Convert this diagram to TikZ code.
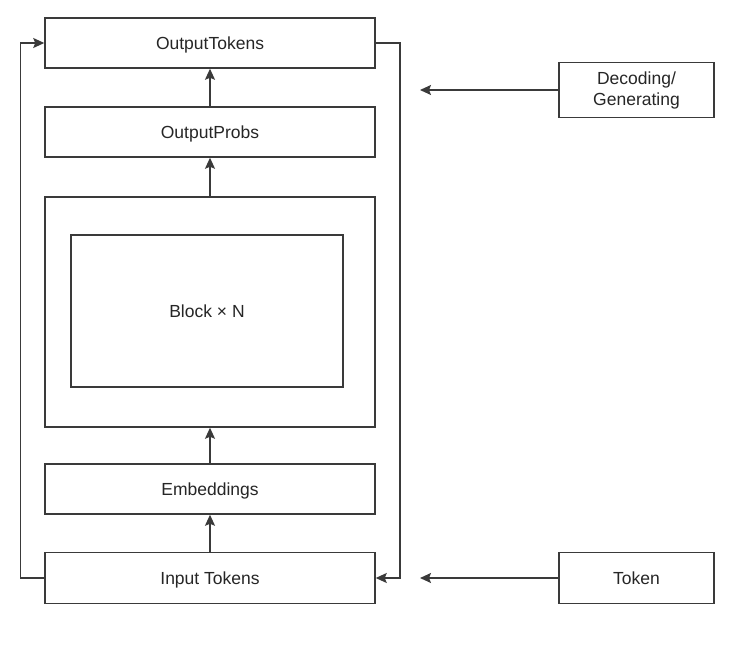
\documentclass[tikz,border=0pt]{standalone}
\usepackage{fontspec}
\setmainfont{Liberation Sans}
\usetikzlibrary{arrows.meta}
\definecolor{ln}{HTML}{3A3A3A}
\begin{document}
\begin{tikzpicture}[x=1pt,y=-1pt,
  box/.style={draw=ln,line width=1.5pt,rectangle,inner sep=0pt,font=\fontsize{17.5}{21}\selectfont,text=black!85,text height=13pt,text depth=0.5pt},
  conn/.style={draw=ln,line width=1.5pt,-{Stealth[length=11pt,width=10pt,inset=2pt]}}]
\useasboundingbox[fill=white] (0,0) rectangle (733,650);
\node[box,minimum width=330pt,minimum height=50pt] (ot) at (210,43) {OutputTokens};
\node[box,minimum width=330pt,minimum height=50pt] (op) at (210,132) {OutputProbs};
\node[box,minimum width=330pt,minimum height=230pt] (blk) at (210,312) {};
\node[box,minimum width=272pt,minimum height=152pt] (inner) at (207,311) {Block × N};
\node[box,minimum width=330pt,minimum height=50pt] (emb) at (210,489) {Embeddings};
\node[box,minimum width=330pt,minimum height=51pt] (it) at (210,578) {Input Tokens};
\node[box,minimum width=155pt,minimum height=55pt,align=center,text height=,text depth=,font=\fontsize{17.5}{21}\selectfont] (dec) at (636.5,90) {Decoding/\\Generating};
\node[box,minimum width=155pt,minimum height=51pt] (tok) at (636.5,578) {Token};
\coordinate (dend) at (420,90);
\coordinate (tend) at (420,578);
\draw[conn] (op.north) -- (ot.south);
\draw[conn] (blk.north) -- (op.south);
\draw[conn] (emb.north) -- (blk.south);
\draw[conn] (it.north) -- (emb.south);
\draw[conn] (it.west) -- ++(-24,0) |- (ot.west);
\draw[conn] (ot.east) -- ++(24,0) |- (it.east);
\draw[conn] (dec.west) -- (dend);
\draw[conn] (tok.west) -- (tend);
\end{tikzpicture}
\end{document}
